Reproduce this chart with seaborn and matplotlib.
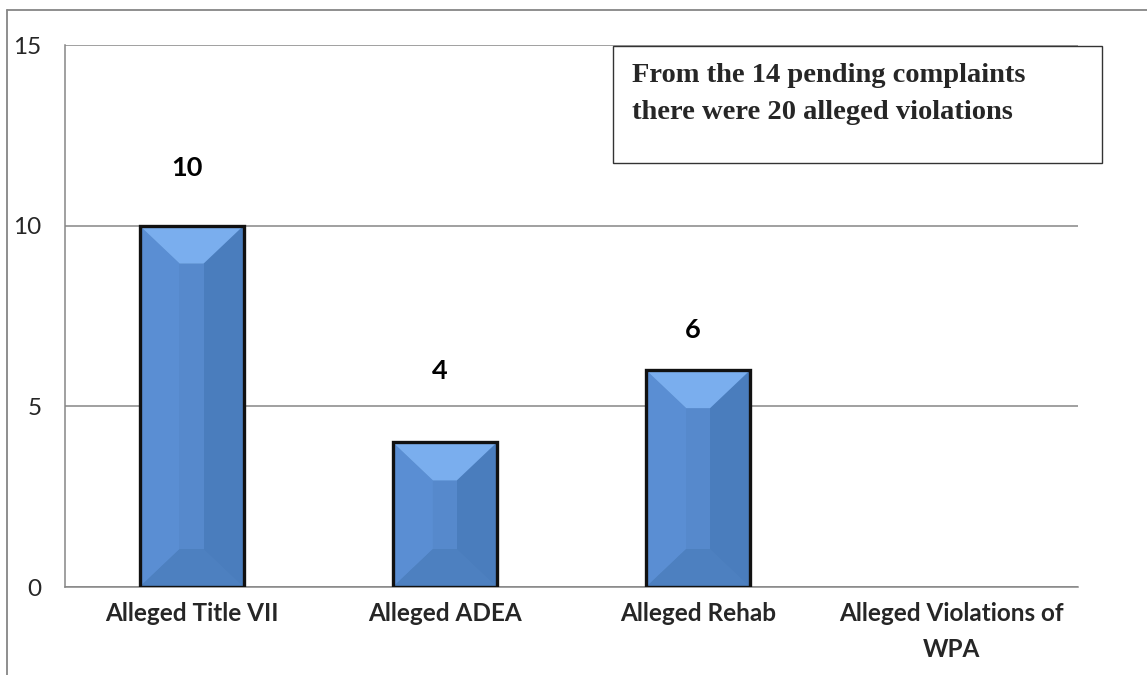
import matplotlib
matplotlib.use("Agg")
import matplotlib.pyplot as plt
import seaborn as sns
import pandas as pd
from matplotlib.patches import Polygon, Rectangle
from matplotlib.lines import Line2D

categories = ["Alleged Title VII", "Alleged ADEA", "Alleged Rehab", "Alleged Violations of\nWPA"]
counts = [10, 4, 6, 0]
y_ticks = [0, 5, 10, 15]
note_text = "From the 14 pending complaints\nthere were 20 alleged violations"

# value labels sit at uneven heights in the original (pixels above bar top)
label_offsets = [58, 71, 40, 0]

W, H = 1147, 675
GRAY = "#868686"

df = pd.DataFrame({"category": categories, "count": counts})

sns.set_style("white")
plt.rcParams["font.family"] = ["Lato", "DejaVu Sans"]

fig = plt.figure(figsize=(W / 100, H / 100), dpi=100)
ax = fig.add_axes([65 / W, 1 - 587 / H, (1078 - 65) / W, (587 - 45) / H])

sns.barplot(data=df, x="category", y="count", color="#4F81BD", width=0.41,
            saturation=1, linewidth=0, ax=ax, zorder=2)

ax.set_ylim(0, 15)
ax.set_xlim(-0.5, 3.5)
ax.set_xlabel("")
ax.set_ylabel("")

# bevelled look of the bars
dy = 1.05
for p, val, off in zip(ax.patches, counts, label_offsets):
    x0, w, h = p.get_x(), p.get_width(), p.get_height()
    if h <= 0:
        continue
    dx = w * 0.385
    faces = [
        ([(x0, h), (x0 + dx, h - dy), (x0 + dx, dy), (x0, 0)], "#5A8ED3"),
        ([(x0 + w, h), (x0 + w - dx, h - dy), (x0 + w - dx, dy), (x0 + w, 0)], "#4A7DBD"),
        ([(x0, 0), (x0 + dx, dy), (x0 + w - dx, dy), (x0 + w, 0)], "#4D80C0"),
        ([(x0 + dx, dy), (x0 + w - dx, dy), (x0 + w - dx, h - dy), (x0 + dx, h - dy)], "#5689CC"),
        ([(x0, h), (x0 + w, h), (x0 + w - dx, h - dy), (x0 + dx, h - dy)], "#7AAEEE"),
    ]
    for pts, c in faces:
        ax.add_patch(Polygon(pts, closed=True, facecolor=c, edgecolor="none", zorder=3))
    ax.add_patch(Rectangle((x0, 0), w, h, fill=False, edgecolor="#111111",
                           linewidth=2.4, zorder=4))
    ax.annotate(str(val), (x0 + w / 2, h), xytext=(-5, off), textcoords="offset pixels",
                ha="center", va="center", fontsize=19.5, fontweight="bold", color="black")

# axes styling
ax.yaxis.grid(True, color=GRAY, linewidth=1.1)
ax.set_axisbelow(True)
for s in ["top", "right"]:
    ax.spines[s].set_visible(False)
for s in ["left", "bottom"]:
    ax.spines[s].set_color(GRAY)
    ax.spines[s].set_linewidth(1.1)

ax.set_yticks(y_ticks)
ax.tick_params(axis="y", length=6, width=1.1, color=GRAY, pad=11, labelsize=17.5)
ax.tick_params(axis="x", which="major", length=0, pad=11, labelsize=17.5)
ax.set_xticks([-0.5, 0.5, 1.5, 2.5, 3.5], minor=True)
ax.tick_params(axis="x", which="minor", length=6, width=1.1, color=GRAY)
for lab in ax.get_xticklabels():
    lab.set_fontweight("bold")
    lab.set_multialignment("center")
    lab.set_linespacing(1.68)

# annotation box
fig.add_artist(Rectangle((613 / W, 1 - 163 / H), (1102 - 613) / W, (163 - 46) / H,
                         transform=fig.transFigure, fill=False, edgecolor="#333333",
                         linewidth=1.0))
fig.text(632 / W, 1 - 94 / H, note_text, ha="left", va="center", fontsize=20.5,
         fontweight="bold", family="Liberation Serif", linespacing=1.6)

# outer chart border (only left and top visible)
fig.add_artist(Line2D([7 / W, 7 / W], [0, 1 - 10 / H], transform=fig.transFigure,
                      color=GRAY, linewidth=1.3))
fig.add_artist(Line2D([7 / W, 1], [1 - 10 / H, 1 - 10 / H], transform=fig.transFigure,
                      color=GRAY, linewidth=1.3))

fig.savefig("out.png", dpi=100)
